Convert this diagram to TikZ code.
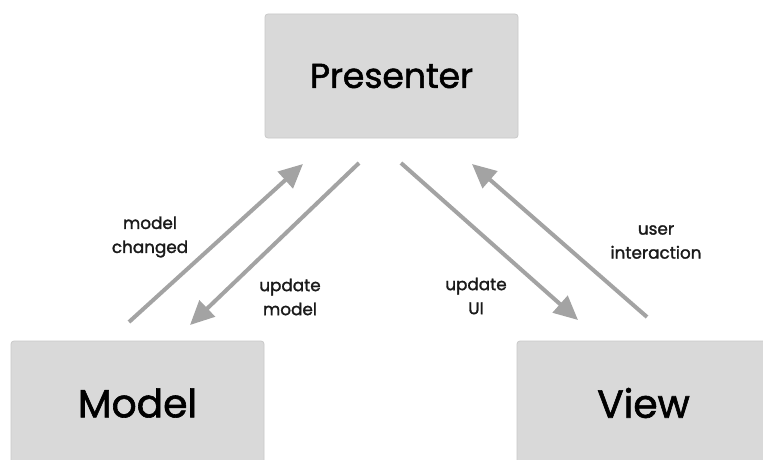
\documentclass[tikz,border=0pt]{standalone}
\usepackage{fontspec}
\setmainfont{Poppins}[UprightFeatures={FakeBold=1.6}]
\usetikzlibrary{arrows.meta}
\definecolor{boxfill}{HTML}{D9D9D9}
\definecolor{boxline}{HTML}{C9C9C9}
\definecolor{arrowgray}{HTML}{A3A3A3}
\definecolor{labeltext}{HTML}{1A1A1A}
\begin{document}
\begin{tikzpicture}[x=1pt,y=-1pt,
  box/.style={draw=boxline, fill=boxfill, rounded corners=3pt, line width=0.8pt,
    minimum width=253pt, minimum height=124pt, inner sep=0pt},
  flow/.style={draw=arrowgray, line width=4pt, -{Triangle[length=24pt,width=22pt]}},
  lbl/.style={align=center, font=\fontsize{16.8}{24}\selectfont, text=labeltext}]
\useasboundingbox (0,0) rectangle (763,460);
\clip (0,0) rectangle (763,460);
\fill[white] (0,0) rectangle (763,460);

% the three components
\node[box, font=\fontsize{34.6}{40}\selectfont] (presenter) at (391.5,76) {Presenter};
\node[box, font=\fontsize{39.2}{42}\selectfont] (model) at (137.5,403) {Model};
\node[box, font=\fontsize{39.2}{42}\selectfont] (view) at (643.5,403) {View};

% free ends of the connectors
\coordinate (mcA) at (129,322);
\coordinate (mcB) at (303,164);
\coordinate (umA) at (359,163);
\coordinate (umB) at (190,325);
\coordinate (uiA) at (401,163);
\coordinate (uiB) at (578,320);
\coordinate (usA) at (647,317);
\coordinate (usB) at (472,164);

\draw[flow] (mcA) -- (mcB);
\draw[flow] (umA) -- (umB);
\draw[flow] (uiA) -- (uiB);
\draw[flow] (usA) -- (usB);

% connector labels
\node[lbl] (lmc) at (150,237) {model\\changed};
\node[lbl] (lum) at (290,297) {update\\model};
\node[lbl] (lui) at (476,296) {update\\UI};
\node[lbl] (lus) at (656,242) {user\\interaction};
\end{tikzpicture}
\end{document}
